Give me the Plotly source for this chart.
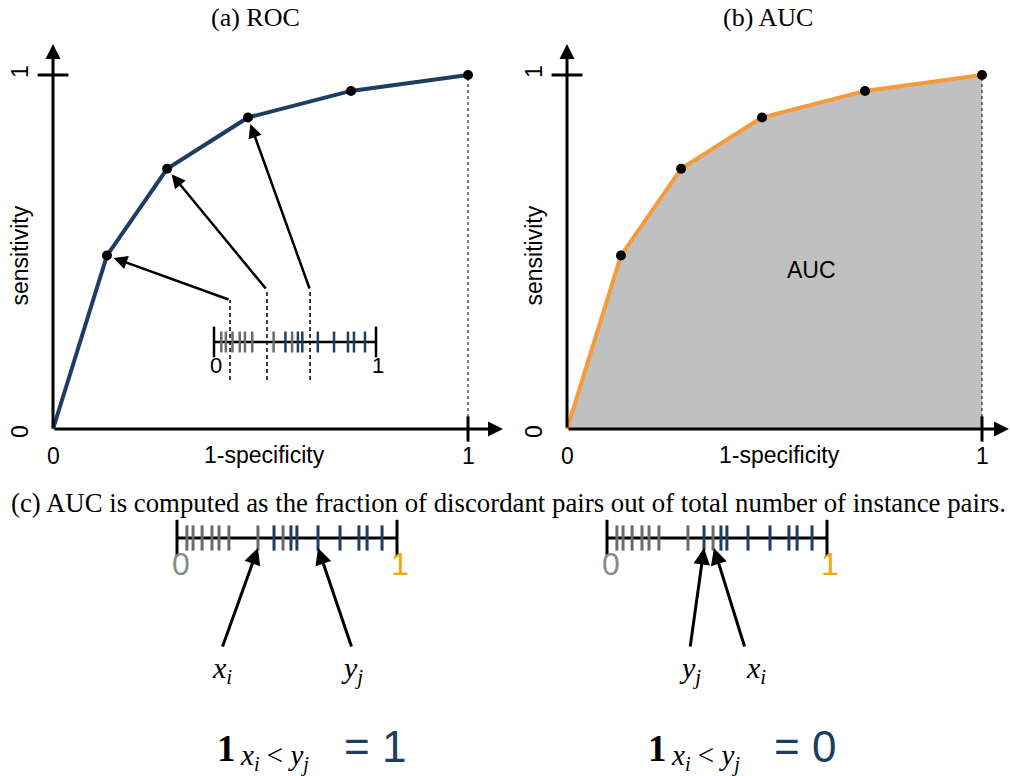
import plotly.graph_objects as go

W, H = 1010, 776

# ---------------- data ----------------
roc_fpr = [0, 0.13, 0.275, 0.47, 0.718, 1.0]
roc_tpr = [0, 0.49, 0.735, 0.88, 0.955, 1.0]
neg_scores = [0.045, 0.073, 0.114, 0.159, 0.191, 0.236, 0.368, 0.482]
pos_scores = [0.441, 0.518, 0.545, 0.641, 0.741, 0.827, 0.864, 0.932]
thresholds = [0.099, 0.327, 0.593]
threshold_points = [1, 2, 3]          # ROC point each threshold maps to
pair_left = {"x_i": 0.368, "y_j": 0.641}   # concordant pair
pair_right = {"y_j": 0.441, "x_i": 0.486}  # discordant pair

panel_titles = ["(a) ROC", "(b) AUC"]
caption = "(c) AUC is computed as the fraction of discordant pairs out of total number of instance pairs."

# ---------------- style ----------------
SERIF = "Liberation Serif"
SANS = "Liberation Sans"
NAVY = "#1f3d63"
TICK_GRAY = "#6b6b6b"
ORANGE = "#f89a3a"
FILL = "#c0c0c0"
GOLD = "#f2a900"
LABEL_GRAY = "#8a8a8a"

# pixel geometry helpers
A_X0, B_X0, SX = 53, 567, 415
Y0, SY = 429, 354
CL_X0, CR_X0, C_SX = 177, 607, 220
C_Y0, C_SY = 538, 100


def xr(p0, p1, o, s):
    return [(p0 - o) / s, (p1 - o) / s]


def yr(top, bot, o, s):
    return [(o - bot) / s, (o - top) / s]


def xd(p0, p1):
    return [p0 / W, p1 / W]


def yd(top, bot):
    return [1 - bot / H, 1 - top / H]


# inset number line inside panel (a) (in panel-a data units)
INSET_X0 = (214 - A_X0) / SX
INSET_W = (376 - 214) / SX
INSET_Y = (Y0 - 342) / SY
DASH_TOP = [(Y0 - 300) / SY, (Y0 - 290) / SY, (Y0 - 290) / SY]
DASH_BOT = (Y0 - 380) / SY


def inset_x(t):
    return INSET_X0 + t * INSET_W


fig = go.Figure()


def add(tr, xa, ya):
    tr.update(xaxis=xa, yaxis=ya, showlegend=False, hoverinfo="skip")
    fig.add_trace(tr)


# ---------- panel (a) ----------
add(go.Scatter(x=[1, 1], y=[0, 1], mode="lines",
               line=dict(color="black", width=1, dash="dot")), "x", "y")
add(go.Scatter(x=roc_fpr, y=roc_tpr, mode="lines",
               line=dict(color=NAVY, width=4)), "x", "y")
add(go.Scatter(x=roc_fpr[1:], y=roc_tpr[1:], mode="markers",
               marker=dict(color="black", size=10)), "x", "y")
# axis ticks
add(go.Scatter(x=[0], y=[1], mode="markers",
               marker=dict(symbol="line-ew", size=22, line=dict(width=3, color="black"))), "x", "y")
add(go.Scatter(x=[1], y=[0], mode="markers",
               marker=dict(symbol="line-ns", size=18, line=dict(width=3, color="black"))), "x", "y")

# inset number line
add(go.Scatter(x=[inset_x(0), inset_x(1)], y=[INSET_Y, INSET_Y], mode="lines",
               line=dict(color="black", width=2.5)), "x", "y")
add(go.Scatter(x=[inset_x(0), inset_x(1)], y=[INSET_Y, INSET_Y], mode="markers",
               marker=dict(symbol="line-ns", size=22, line=dict(width=2.5, color="black"))), "x", "y")
add(go.Scatter(x=[inset_x(v) for v in neg_scores], y=[INSET_Y] * len(neg_scores), mode="markers",
               marker=dict(symbol="line-ns", size=15, line=dict(width=2.5, color=TICK_GRAY))), "x", "y")
add(go.Scatter(x=[inset_x(v) for v in pos_scores], y=[INSET_Y] * len(pos_scores), mode="markers",
               marker=dict(symbol="line-ns", size=15, line=dict(width=2.5, color=NAVY))), "x", "y")
for t, top in zip(thresholds, DASH_TOP):
    add(go.Scatter(x=[inset_x(t)] * 2, y=[DASH_BOT, top], mode="lines",
                   line=dict(color="black", width=1.5, dash="4px,3px")), "x", "y")

# ---------- panel (b) ----------
add(go.Scatter(x=roc_fpr, y=roc_tpr, mode="lines", fill="tozeroy", fillcolor=FILL,
               line=dict(width=0, color=FILL)), "x2", "y2")
add(go.Scatter(x=[1, 1], y=[0, 1], mode="lines",
               line=dict(color="black", width=1, dash="dot")), "x2", "y2")
add(go.Scatter(x=roc_fpr, y=roc_tpr, mode="lines",
               line=dict(color=ORANGE, width=4)), "x2", "y2")
add(go.Scatter(x=roc_fpr[1:], y=roc_tpr[1:], mode="markers",
               marker=dict(color="black", size=10)), "x2", "y2")
add(go.Scatter(x=[0], y=[1], mode="markers",
               marker=dict(symbol="line-ew", size=22, line=dict(width=3, color="black"))), "x2", "y2")
add(go.Scatter(x=[1], y=[0], mode="markers",
               marker=dict(symbol="line-ns", size=18, line=dict(width=3, color="black"))), "x2", "y2")

# ---------- panel (c) number lines ----------
for xa, ya in (("x3", "y3"), ("x4", "y4")):
    add(go.Scatter(x=[0, 1], y=[0, 0], mode="lines",
                   line=dict(color="black", width=3)), xa, ya)
    add(go.Scatter(x=[0, 1], y=[0, 0], mode="markers",
                   marker=dict(symbol="line-ns", size=26, line=dict(width=3, color="black"))), xa, ya)
    add(go.Scatter(x=neg_scores, y=[0] * len(neg_scores), mode="markers",
                   marker=dict(symbol="line-ns", size=18, line=dict(width=3, color=TICK_GRAY))), xa, ya)
    add(go.Scatter(x=pos_scores, y=[0] * len(pos_scores), mode="markers",
                   marker=dict(symbol="line-ns", size=18, line=dict(width=3, color=NAVY))), xa, ya)

# ---------- annotations ----------
ann = []


def txt(text, x, y, xref="paper", yref="paper", size=23, color="black", family=SANS,
        angle=0, xanchor="center", yanchor="middle", **kw):
    ann.append(dict(text=text, x=x, y=y, xref=xref, yref=yref, showarrow=False,
                    font=dict(size=size, color=color, family=family), textangle=angle,
                    xanchor=xanchor, yanchor=yanchor, **kw))


def arrow(x, y, ax, ay, xref, yref, width=2.5, head=2, size=1.0, standoff=0):
    ann.append(dict(text="", x=x, y=y, ax=ax, ay=ay, xref=xref, yref=yref,
                    axref=xref, ayref=yref, showarrow=True, arrowhead=head,
                    arrowsize=size, arrowwidth=width, arrowcolor="black", standoff=standoff))


def px(x, y):
    return dict(x=x / W, y=1 - y / H)


# titles
txt(panel_titles[0], **px(255, 17), size=26, family=SERIF)
txt(panel_titles[1], **px(768, 17), size=26, family=SERIF)
txt(caption, **px(508, 503), size=26.8, family=SERIF)

# axes arrows + labels for (a) and (b)
for xref, yref, x_tip, cx in (("x", "y", (503 - A_X0) / SX, 264), ("x2", "y2", (1009 - B_X0) / SX, 779)):
    arrow(x_tip, 0, 0, 0, xref, yref, width=3, head=2, size=1.0)
    arrow(0, (Y0 - 44) / SY, 0, 0, xref, yref, width=3, head=2, size=1.0)
    txt("0", 0, 0, xref, yref, yshift=-27)
    txt("1", 1, 0, xref, yref, yshift=-27)
    txt("0", 0, 0, xref, yref, angle=-90, xshift=-33, yshift=-3)
    txt("1", 0, 1, xref, yref, angle=-90, xshift=-33, yshift=3)
    txt("1-specificity", **px(cx, 455))
    txt("sensitivity", 0, 0.49, xref, yref, angle=-90, xshift=-33)

txt("AUC", (811 - B_X0) / SX, (Y0 - 270) / SY, "x2", "y2")

# inset labels and threshold arrows in (a)
txt("0", inset_x(0), INSET_Y, "x", "y", size=22, yshift=-23, xshift=2)
txt("1", inset_x(1), INSET_Y, "x", "y", size=22, yshift=-23, xshift=2)
for t, top, k in zip(thresholds, DASH_TOP, threshold_points):
    arrow(roc_fpr[k], roc_tpr[k], inset_x(t), top, "x", "y", width=2.5, head=2, size=1.1, standoff=7)

# (c) number line labels
for xref, yref in (("x3", "y3"), ("x4", "y4")):
    txt("0", 0, 0, xref, yref, size=32, color=LABEL_GRAY, xshift=4, yshift=-26)
    txt("1", 1, 0, xref, yref, size=32, color=GOLD, xshift=3, yshift=-26)

TIP_Y = -0.1
TAIL_Y = -1.1
LAB_Y = -1.32
XI = "<i>x</i><sub><i>i</i></sub>"
YJ = "<i>y</i><sub><i>j</i></sub>"
left_tails = {"x_i": (222 - CL_X0) / C_SX, "y_j": (352 - CL_X0) / C_SX}
right_tails = {"y_j": (690 - CR_X0) / C_SX, "x_i": (745 - CR_X0) / C_SX}
for xref, yref, pair, tails in (("x3", "y3", pair_left, left_tails), ("x4", "y4", pair_right, right_tails)):
    for name, v in pair.items():
        arrow(v, TIP_Y, tails[name], TAIL_Y, xref, yref, width=3, head=2, size=1.1)
        lab_x = tails[name] + (0.05 if (xref == "x4" and name == "x_i") else 0)
        txt(XI if name == "x_i" else YJ, lab_x, LAB_Y, xref, yref, size=30, family=SERIF)

SUBSCRIPT = "<i>x</i><sub><i>i</i></sub> &lt; <i>y</i><sub><i>j</i></sub>"
for x_one, x_eq, value in ((215, 342, "= 1"), (646, 772, "= 0")):
    txt("<b>1</b>", **px(x_one, 748), size=37, family=SERIF, xanchor="left")
    txt(SUBSCRIPT, **px(x_one + 23, 757), size=29, family=SERIF, xanchor="left")
    txt(value, **px(x_eq, 746), size=44, color=NAVY, xanchor="left")

ax_common = dict(visible=False, fixedrange=True, showgrid=False, zeroline=False)
fig.update_layout(
    width=W, height=H, margin=dict(l=0, r=0, t=0, b=0),
    paper_bgcolor="white", plot_bgcolor="rgba(0,0,0,0)",
    xaxis=dict(domain=xd(0, 505), range=xr(0, 505, A_X0, SX), anchor="y", **ax_common),
    yaxis=dict(domain=yd(0, 485), range=yr(0, 485, Y0, SY), anchor="x", **ax_common),
    xaxis2=dict(domain=xd(505, 1010), range=xr(505, 1010, B_X0, SX), anchor="y2", **ax_common),
    yaxis2=dict(domain=yd(0, 485), range=yr(0, 485, Y0, SY), anchor="x2", **ax_common),
    xaxis3=dict(domain=xd(0, 505), range=xr(0, 505, CL_X0, C_SX), anchor="y3", **ax_common),
    yaxis3=dict(domain=yd(485, 776), range=yr(485, 776, C_Y0, C_SY), anchor="x3", **ax_common),
    xaxis4=dict(domain=xd(505, 1010), range=xr(505, 1010, CR_X0, C_SX), anchor="y4", **ax_common),
    yaxis4=dict(domain=yd(485, 776), range=yr(485, 776, C_Y0, C_SY), anchor="x4", **ax_common),
    annotations=ann,
)

fig.write_html("out.html")
